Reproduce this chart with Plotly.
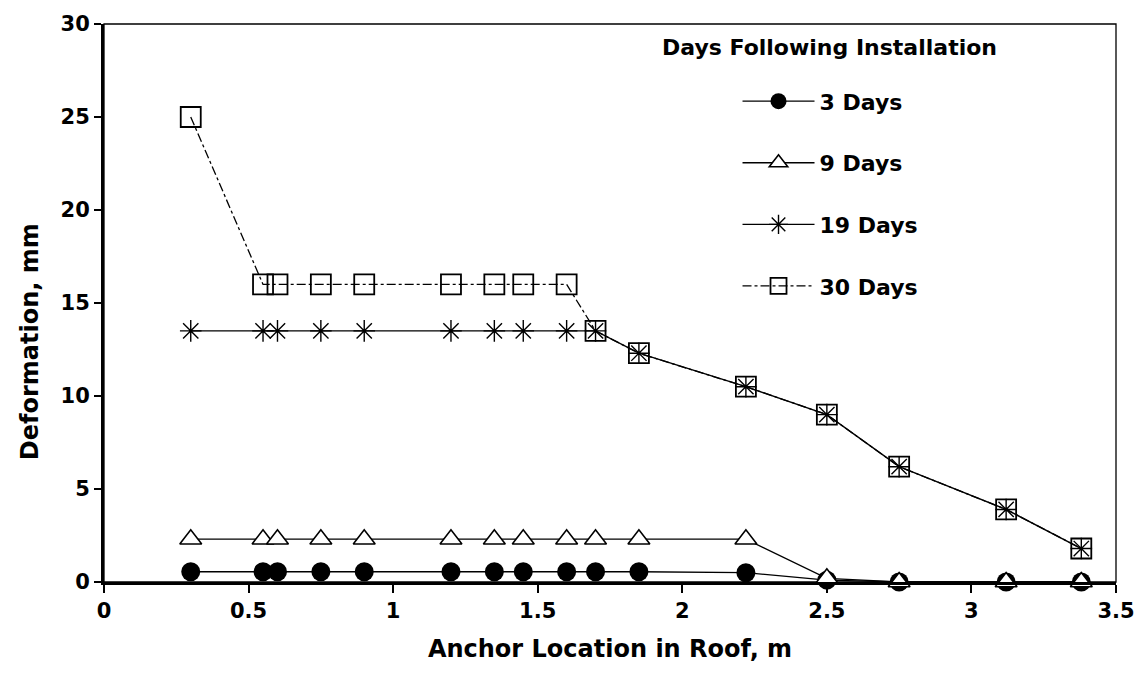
import plotly.graph_objects as go

# Data
anchor_x = [0.3, 0.55, 0.6, 0.75, 0.9, 1.2, 1.35, 1.45, 1.6, 1.7, 1.85, 2.22, 2.5, 2.75, 3.12, 3.38]
days_3 = [0.55, 0.55, 0.55, 0.55, 0.55, 0.55, 0.55, 0.55, 0.55, 0.55, 0.55, 0.5, 0.1, 0.0, 0.0, 0.0]
days_9 = [2.3, 2.3, 2.3, 2.3, 2.3, 2.3, 2.3, 2.3, 2.3, 2.3, 2.3, 2.3, 0.2, 0.0, 0.0, 0.0]
days_19 = [13.5, 13.5, 13.5, 13.5, 13.5, 13.5, 13.5, 13.5, 13.5, 13.5, 12.3, 10.5, 9.0, 6.2, 3.9, 1.8]
days_30 = [25.0, 16.0, 16.0, 16.0, 16.0, 16.0, 16.0, 16.0, 16.0, 13.5, 12.3, 10.5, 9.0, 6.2, 3.9, 1.8]
series_names = ["3 Days", "9 Days", "19 Days", "30 Days"]
x_ticks = [0, 0.5, 1, 1.5, 2, 2.5, 3, 3.5]
x_tick_labels = ["0", "0.5", "1", "1.5", "2", "2.5", "3", "3.5"]
y_ticks = [0, 5, 10, 15, 20, 25, 30]

FONT = "DejaVu Sans"
fig = go.Figure()

fig.add_trace(go.Scatter(
    x=anchor_x, y=days_3, name=series_names[0], mode="lines+markers",
    legendgroup="g1", cliponaxis=False,
    line=dict(color="black", width=1.3),
    marker=dict(symbol="circle", size=19, color="black"),
))
fig.add_trace(go.Scatter(
    x=anchor_x, y=days_9, name=series_names[1], mode="lines+markers",
    legendgroup="g2", cliponaxis=False,
    line=dict(color="black", width=1.3),
    marker=dict(symbol="triangle-up", size=19, color="white",
                line=dict(color="black", width=1.6)),
))
fig.add_trace(go.Scatter(
    x=anchor_x, y=days_19, name=series_names[2], mode="lines+markers",
    legendgroup="g3", cliponaxis=False,
    line=dict(color="black", width=1.4),
    marker=dict(symbol="asterisk-open", size=18, color="black",
                line=dict(color="black", width=1.4)),
))
fig.add_trace(go.Scatter(
    x=anchor_x, y=days_30, name=series_names[3], mode="lines+markers",
    legendgroup="g4", cliponaxis=False,
    line=dict(color="black", width=1.3, dash="dashdot"),
    marker=dict(symbol="square-open", size=20, color="black",
                line=dict(color="black", width=1.8)),
))

axis_font = dict(family=FONT, size=21, color="black", weight="bold")
title_font = dict(family=FONT, size=24, color="black", weight="bold")

fig.update_xaxes(
    range=[0, 3.5], tickvals=x_ticks, ticktext=x_tick_labels,
    showgrid=False, zeroline=False, showline=True, linecolor="black", linewidth=3,
    ticks="outside", ticklen=8, tickwidth=2, tickcolor="black",
    tickfont=axis_font,
    title=dict(text="Anchor Location in Roof, m", font=title_font, standoff=18),
)
fig.update_yaxes(
    range=[0, 30], tickvals=y_ticks,
    showgrid=False, zeroline=False, showline=True, linecolor="black", linewidth=3,
    ticks="outside", ticklen=7, tickwidth=2, tickcolor="black",
    tickfont=axis_font,
)

fig.add_shape(type="rect", xref="paper", yref="paper", x0=0, x1=1, y0=0, y1=1,
              line=dict(color="black", width=1.3), layer="below")

# y-axis title (placed like the reference, slightly below the axis middle)
fig.add_annotation(
    text="Deformation, mm", xref="paper", yref="paper",
    x=-0.073, y=0.43, xanchor="center", yanchor="middle", textangle=-90,
    showarrow=False, font=title_font,
)

fig.add_annotation(
    text="Days Following Installation", xref="paper", yref="paper",
    x=0.717, y=0.958, xanchor="center", yanchor="middle", showarrow=False,
    font=dict(family=FONT, size=22, color="black", weight="bold"),
)

fig.update_layout(
    width=1147, height=688,
    margin=dict(l=104, r=26, t=18, b=106),
    paper_bgcolor="white", plot_bgcolor="white",
    showlegend=True,
    legend=dict(
        x=0.626, y=0.899, xanchor="left", yanchor="top",
        traceorder="grouped", tracegroupgap=30, itemwidth=72,
        bgcolor="rgba(0,0,0,0)", borderwidth=0,
        font=dict(family=FONT, size=22, color="black", weight="bold"),
    ),
)

fig.write_html(
    "out.html",
    config={"displayModeBar": False},
    post_script="document.body.style.margin='0';document.body.style.overflow='hidden';",
)
